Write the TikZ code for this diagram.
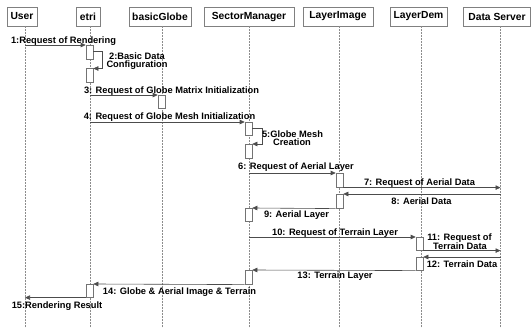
\documentclass[tikz,border=0pt]{standalone}
\usepackage{fontspec}
\setmainfont{Liberation Sans}
\usetikzlibrary{arrows.meta}
\begin{document}
\begin{tikzpicture}[x=1pt,y=-1pt,
 hdr/.style={draw=black!50, line width=0.6pt, fill=white, minimum height=19pt, inner sep=0pt, font=\fontsize{10.3}{12}\selectfont\bfseries},
 life/.style={draw=black!45, line width=0.5pt, densely dotted},
 act/.style={draw=black!55, fill=white, line width=0.6pt, minimum width=7pt, inner sep=0pt, anchor=north},
 msg/.style={draw=black!70, line width=0.6pt, -{Triangle[length=5pt,width=4.5pt]}},
 lbl/.style={font=\fontsize{9.3}{11}\selectfont\bfseries, inner sep=0pt, text height=6.7pt, text depth=0pt}]
\useasboundingbox (0,0) rectangle (532,328);

% headers
\node[hdr, minimum width=30pt] (user) at (22,16.5) {User};
\node[hdr, minimum width=24pt] (etri) at (88,16.5) {etri};
\node[hdr, minimum width=62pt] (globe) at (160,16.5) {basicGlobe};
\node[hdr, minimum width=90pt] (sector) at (249,16.5) {SectorManager};
\node[hdr, minimum width=70pt] (limage) at (338,16.5) {LayerImage};
\node[hdr, minimum width=57pt] (ldem) at (418.5,16.5) {LayerDem};
\node[hdr, minimum width=67pt] (server) at (497,16.5) {Data Server};

% lifelines
\coordinate (Ut) at (25,26);    \coordinate (Ub) at (25,328);
\coordinate (Et) at (90,26);    \coordinate (Eb) at (90,328);
\coordinate (Bt) at (162,26);   \coordinate (Bb) at (162,328);
\coordinate (St) at (249,26);   \coordinate (Sb) at (249,328);
\coordinate (It) at (339,26);   \coordinate (Ib) at (339,328);
\coordinate (Dt) at (421.5,26); \coordinate (Db) at (421.5,328);
\coordinate (Xt) at (500.5,26); \coordinate (Xb) at (500.5,328);
\foreach \a/\b in {Ut/Ub,Et/Eb,Bt/Bb,St/Sb,It/Ib,Dt/Db,Xt/Xb}
  \draw[life] (\a) -- (\b);

% activations
\node[act, minimum height=14pt] (e1) at (89.5,45) {};
\node[act, minimum height=13.5pt] (e2) at (89.5,68.5) {};
\node[act, minimum height=13pt] (e3) at (89.5,284) {};
\node[act, minimum height=13pt] (b1) at (161.5,95) {};
\node[act, minimum height=13pt] (s1) at (248.5,122) {};
\node[act, minimum height=14pt] (s2) at (248.5,144) {};
\node[act, minimum height=13pt] (s3) at (248.5,208) {};
\node[act, minimum height=14pt] (s4) at (248.5,270) {};
\node[act, minimum height=14pt] (i1) at (339.5,173) {};
\node[act, minimum height=14pt] (i2) at (339.5,194) {};
\node[act, minimum height=13pt] (d1) at (419.5,237) {};
\node[act, minimum height=13pt] (d2) at (419.5,257) {};

% messages
\draw[msg] (e1.north west -| Ut) -- (e1.north west);
\draw[msg] ([yshift=-6pt]e1.north east) -- ++(9,0) |- (e2.north east);
\draw[msg] (b1.north west -| Et) -- (b1.north west);
\draw[msg] (s1.north west -| Et) -- (s1.north west);
\draw[msg] ([yshift=-6pt]s1.north east) -- ++(10,0) |- (s2.north east);
\draw[msg] (i1.north west -| St) -- (i1.north west);
\draw[msg] (i1.south east) -- (i1.south east -| Xt);
\draw[msg] (i2.north east -| Xt) -- (i2.north east);
\draw[msg] (i2.south west) -- (s3.north east);
\draw[msg] (d1.north west -| St) -- (d1.north west);
\draw[msg] (d1.south east) -- (d1.south east -| Xt);
\draw[msg] (d2.north east -| Xt) -- (d2.north east);
\draw[msg] (d2.south west) -- (s4.north east);
\draw[msg] (s4.south west) -- (e3.north east);
\draw[msg] (e3.south west) -- (e3.south west -| Ut);

% labels
\node[lbl] (l1) at (63.5,40) {1:Request of Rendering};
\node[lbl] (l2a) at (137,56) {2:Basic Data};
\node[lbl] (l2b) at (137,64) {Configuration};
\node[lbl] (l3) at (171.5,90) {3: Request of Globe Matrix Initialization};
\node[lbl] (l4) at (169.5,116) {4: Request of Globe Mesh Initialization};
\node[lbl] (l5a) at (292.5,134.5) {5:Globe Mesh};
\node[lbl] (l5b) at (292,142.5) {Creation};
\node[lbl] (l6) at (296,166) {6: Request of Aerial Layer};
\node[lbl] (l7) at (419.5,182) {7: Request of Aerial Data};
\node[lbl] (l8) at (421.5,201) {8: Aerial Data};
\node[lbl] (l9) at (296.5,214.5) {9: Aerial Layer};
\node[lbl] (l10) at (335,232) {10: Request of Terrain Layer};
\node[lbl] (l11a) at (459.5,237.5) {11: Request of};
\node[lbl] (l11b) at (460,246) {Terrain Data};
\node[lbl] (l12) at (462,264) {12: Terrain Data};
\node[lbl] (l13) at (335,275) {13: Terrain Layer};
\node[lbl] (l14) at (179.5,291) {14: Globe \& Aerial Image \& Terrain};
\node[lbl] (l15) at (57,305) {15:Rendering Result};
\end{tikzpicture}
\end{document}
